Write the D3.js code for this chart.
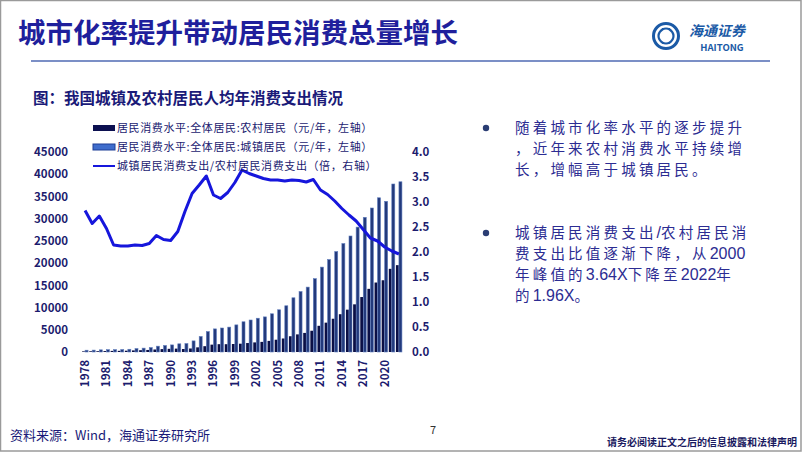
<!DOCTYPE html>
<html><head><meta charset="utf-8">
<script src="https://cdn.jsdelivr.net/npm/d3@7"></script>
<style>
html,body{margin:0;padding:0;background:#fff;}
svg{display:block;}
text{font-family:"Noto Sans CJK SC","Noto Sans",sans-serif;}
</style></head>
<body>
<svg id="c" width="802" height="452"></svg>
<script>
const years = d3.range(1978, 2023);
const tickYears = [1978,1981,1984,1987,1990,1993,1996,1999,2002,2005,2008,2011,2014,2017,2020];
const urban = [405,425,489,521,536,558,618,765,872,998,1311,1466,1596,1840,1900,2500,3500,4600,5200,5400,
  5600,6100,6800,7200,7600,7900,8600,9500,10400,12200,13600,14600,16500,19100,20800,22600,24400,26100,28100,30300,
  32400,34700,33900,37800,38300];
const rural = [143,165,180,211,250,263,292,357,409,460,563,652,716,763,676,789,1048,1307,1656,1759,
  1755,1799,1868,2017,2159,2277,2500,2762,3041,3547,3965,4294,4783,5895,6603,7483,8502,9526,10725,12367,
  14211,15631,16143,18713,19541];
const ratio = [2.83,2.57,2.72,2.47,2.14,2.12,2.12,2.14,2.13,2.17,2.33,2.25,2.23,2.41,2.81,3.17,3.34,3.52,3.14,3.07,
  3.19,3.39,3.64,3.57,3.52,3.47,3.44,3.44,3.42,3.44,3.43,3.40,3.45,3.24,3.15,3.02,2.87,2.74,2.62,2.45,
  2.28,2.22,2.10,2.02,1.96];
const leftTicks = d3.range(0, 45001, 5000);
const rightTicks = d3.range(0, 4.01, 0.5);
const legendLabels = ["居民消费水平:全体居民:农村居民（元/年，左轴）","居民消费水平:全体居民:城镇居民（元/年，左轴）","城镇居民消费支出/农村居民消费支出（倍，右轴）"];
const title = "城市化率提升带动居民消费总量增长";
const chartTitle = "图：我国城镇及农村居民人均年消费支出情况";
const bullet1 = ["随着城市化率水平的逐步提升","，近年来农村消费水平持续增","长，增幅高于城镇居民。"];
const bullet2 = ["城镇居民消费支出/农村居民消","费支出比值逐渐下降，从2000","年峰值的3.64X下降至2022年","的1.96X。"];
const source = "资料来源：Wind，海通证券研究所";
const disclaimer = "请务必阅读正文之后的信息披露和法律声明";

const svg = d3.select("#c");
const navy = "#1c1c6e";

// slide border
svg.append("rect").attr("x",0.5).attr("y",0.5).attr("width",800.5).attr("height",450.5)
  .attr("fill","none").attr("stroke","#9a9a9a").attr("stroke-width",1.5);

// title
svg.append("text").attr("x",18).attr("y",43).attr("font-size",27.5).attr("font-weight",700)
  .attr("fill","#1f1f9c").text(title);
svg.append("line").attr("x1",31).attr("x2",770).attr("y1",61).attr("y2",61)
  .attr("stroke","#7b8fc6").attr("stroke-width",2);

// logo
const lg = svg.append("g").attr("transform","translate(666,36)");
lg.append("circle").attr("r",12.5).attr("fill","none").attr("stroke","#1b5aa6").attr("stroke-width",3);
lg.append("path").attr("d","M-7,-3 C-3,-9 3,-9 7,-3 M-7,3 C-3,9 3,9 7,3 M-3,-7 C-9,-3 -9,3 -3,7 M3,-7 C9,-3 9,3 3,7")
  .attr("fill","none").attr("stroke","#1b5aa6").attr("stroke-width",2.2);
svg.append("text").attr("x",689).attr("y",36).attr("font-size",14).attr("font-weight",700)
  .attr("font-style","italic").attr("fill","#1b5aa6").text("海通证券");
svg.append("text").attr("x",722).attr("y",51).attr("text-anchor","middle").attr("font-size",9.5)
  .attr("font-weight",700).attr("font-family","Liberation Sans, Arial, sans-serif").attr("fill","#1b5aa6").text("HAITONG");

// chart title
svg.append("text").attr("x",33).attr("y",104).attr("font-size",15.5).attr("font-weight",700)
  .attr("fill","#1a1a78").text(chartTitle);

// scales
const x = d3.scaleBand().domain(years).range([81.5, 402.5]).paddingInner(0).paddingOuter(0);
const yL = d3.scaleLinear().domain([0,45000]).range([352,152]);
const yR = d3.scaleLinear().domain([0,4]).range([352,152]);

// axes
const axL = svg.append("g").attr("transform","translate(70,0)")
  .call(d3.axisLeft(yL).tickValues(leftTicks).tickSize(0).tickPadding(2).tickFormat(d3.format("d")));
const axR = svg.append("g").attr("transform","translate(410,0)")
  .call(d3.axisRight(yR).tickValues(rightTicks).tickSize(0).tickPadding(2).tickFormat(d3.format(".1f")));
const axB = svg.append("g").attr("transform","translate(0,356)")
  .call(d3.axisBottom(x).tickValues(tickYears).tickSize(0).tickFormat(d3.format("d")));
[axL,axR,axB].forEach(a=>{
  a.select(".domain").remove();
  a.selectAll("text").attr("font-family","Liberation Sans, Arial, sans-serif").attr("font-weight",700)
   .attr("font-size",11.5).attr("fill",navy);
});
axB.selectAll("text").attr("transform","rotate(-90)").attr("text-anchor","end")
  .attr("x",-4).attr("y",0).attr("dy","0.35em");

// bars
const bw = x.bandwidth();
const g = svg.append("g");
g.selectAll(".rb").data(years).join("rect")
  .attr("x", d=>x(d)+bw*0.08).attr("width", bw*0.4)
  .attr("y", (d,i)=>yL(rural[i])).attr("height",(d,i)=>yL(0)-yL(rural[i]))
  .attr("fill","#0b0f45");
g.selectAll(".ub").data(years).join("rect")
  .attr("x", d=>x(d)+bw*0.5).attr("width", bw*0.42)
  .attr("y", (d,i)=>yL(urban[i])).attr("height",(d,i)=>yL(0)-yL(urban[i]))
  .attr("fill","#233a7c").attr("stroke","#5f7dbd").attr("stroke-width",0.6);

// line
const line = d3.line().x((d,i)=>x(years[i])+bw/2).y(d=>yR(d));
svg.append("path").datum(ratio).attr("d",line).attr("fill","none")
  .attr("stroke","#1616dc").attr("stroke-width",3).attr("stroke-linejoin","round");

// legend
const leg = svg.append("g");
const ly = [128,147,166];
leg.append("rect").attr("x",93).attr("y",ly[0]-3).attr("width",22).attr("height",6).attr("fill","#0c1050");
leg.append("rect").attr("x",93).attr("y",ly[1]-3).attr("width",22).attr("height",6).attr("fill","#3f6dcc")
  .attr("stroke","#1f3f96").attr("stroke-width",1);
leg.append("line").attr("x1",93).attr("x2",115).attr("y1",ly[2]).attr("y2",ly[2]).attr("stroke","#1616dc").attr("stroke-width",2);
legendLabels.forEach((t,i)=>{
  leg.append("text").attr("x",117).attr("y",ly[i]).attr("dy","0.36em").attr("font-size",11)
    .attr("letter-spacing",0.6).attr("fill","#1a1a70").text(t);
});

// right text
function block(lines, y0, by){
  svg.append("circle").attr("cx",486).attr("cy",by).attr("r",3.2).attr("fill","#2a3d73");
  lines.forEach((t,i)=>{
    const tx = svg.append("text").attr("x",515).attr("y",y0+i*21).attr("font-size",14.5)
      .attr("fill","#2c2c92");
    t.split(/([0-9.X\/]+)/).filter(s=>s.length).forEach(s=>{
      const ascii = /^[0-9.X\/]+$/.test(s);
      tx.append("tspan").text(s)
        .attr("letter-spacing", ascii ? 0 : 3.2)
        .attr("font-size", ascii ? 16 : 14.5)
        .attr("font-family", ascii ? "Liberation Sans, Arial, sans-serif" : null);
    });
  });
}
block(bullet1, 133, 128);
block(bullet2, 238, 233);

// footer
svg.append("text").attr("x",10).attr("y",440).attr("font-size",13).attr("fill","#1a1a78").text(source);
svg.append("text").attr("x",430).attr("y",434).attr("font-size",11).attr("fill","#333")
  .attr("font-family","Liberation Sans, Arial, sans-serif").text("7");
svg.append("text").attr("x",797).attr("y",446).attr("text-anchor","end").attr("font-size",10).attr("font-weight",700)
  .attr("fill","#1a1a60").text(disclaimer);
</script>
</body></html>
